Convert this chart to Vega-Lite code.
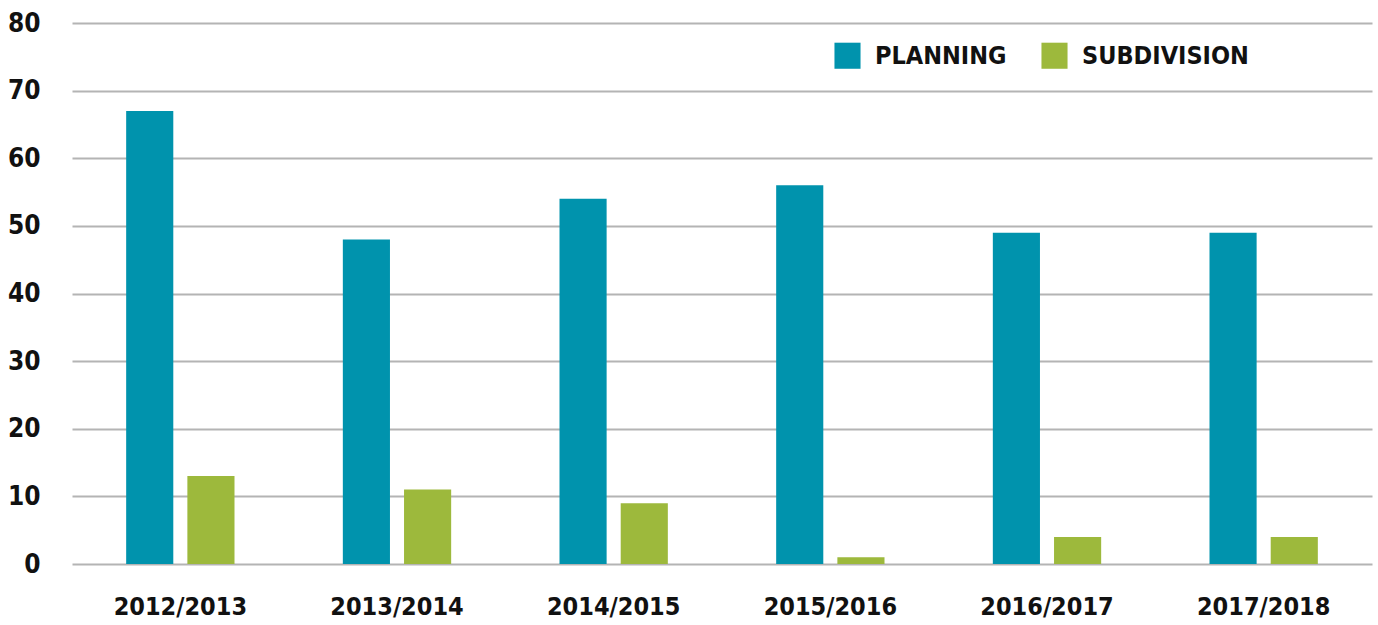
{
  "$schema": "https://vega.github.io/schema/vega-lite/v6.json",
  "width": 1300,
  "height": 541,
  "autosize": {"type": "none"},
  "padding": {"left": 72, "top": 23, "right": 6, "bottom": 61},
  "background": "white",
  "config": {
    "view": {"stroke": null},
    "font": "DejaVu Sans Condensed, Roboto, sans-serif"
  },
  "data": {
    "values": [
      {"year": "2012/2013", "type": "PLANNING", "count": 67},
      {"year": "2012/2013", "type": "SUBDIVISION", "count": 13},
      {"year": "2013/2014", "type": "PLANNING", "count": 48},
      {"year": "2013/2014", "type": "SUBDIVISION", "count": 11},
      {"year": "2014/2015", "type": "PLANNING", "count": 54},
      {"year": "2014/2015", "type": "SUBDIVISION", "count": 9},
      {"year": "2015/2016", "type": "PLANNING", "count": 56},
      {"year": "2015/2016", "type": "SUBDIVISION", "count": 1},
      {"year": "2016/2017", "type": "PLANNING", "count": 49},
      {"year": "2016/2017", "type": "SUBDIVISION", "count": 4},
      {"year": "2017/2018", "type": "PLANNING", "count": 49},
      {"year": "2017/2018", "type": "SUBDIVISION", "count": 4}
    ]
  },
  "mark": {"type": "bar"},
  "encoding": {
    "x": {
      "field": "year",
      "type": "nominal",
      "scale": {"paddingInner": 0.5, "paddingOuter": 0.25},
      "axis": {
        "title": null,
        "labelAngle": 0,
        "labelFont": "DejaVu Sans Condensed, Roboto, sans-serif",
        "labelFontSize": 25,
        "labelFontWeight": "bold",
        "labelColor": "#111111",
        "labelPadding": 30,
        "ticks": false,
        "domain": false,
        "grid": false
      }
    },
    "xOffset": {
      "field": "type",
      "type": "nominal",
      "scale": {"paddingInner": 0.23, "paddingOuter": 0}
    },
    "y": {
      "field": "count",
      "type": "quantitative",
      "scale": {"domain": [0, 80], "nice": false},
      "axis": {
        "title": null,
        "values": [0, 10, 20, 30, 40, 50, 60, 70, 80],
        "labelFont": "DejaVu Sans Condensed, Roboto, sans-serif",
        "labelFontSize": 26,
        "labelFontWeight": "bold",
        "labelColor": "#111111",
        "labelPadding": 32,
        "ticks": false,
        "domain": false,
        "grid": true,
        "gridColor": "#b4b4b4",
        "gridWidth": 2
      }
    },
    "color": {
      "field": "type",
      "type": "nominal",
      "scale": {"domain": ["PLANNING", "SUBDIVISION"], "range": ["#0093AD", "#9DB93C"]},
      "legend": {
        "title": null,
        "orient": "none",
        "legendX": 762,
        "legendY": 19,
        "direction": "horizontal",
        "symbolType": "square",
        "symbolSize": 680,
        "symbolStrokeWidth": 0,
        "labelFont": "DejaVu Sans Condensed, Roboto, sans-serif",
        "labelFontSize": 25,
        "labelFontWeight": "bold",
        "labelColor": "#111111",
        "labelLimit": 400,
        "labelOffset": 14,
        "columnPadding": 34
      }
    }
  }
}
